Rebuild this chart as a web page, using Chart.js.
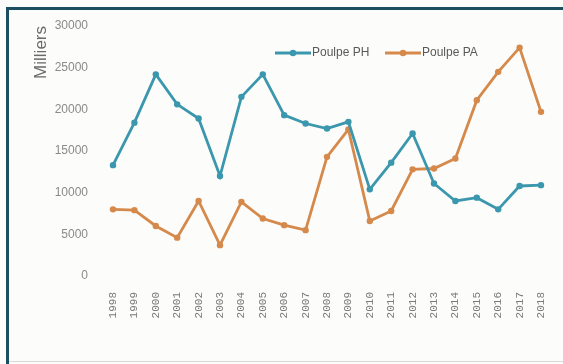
<!DOCTYPE html>
<html lang="fr">
<head>
<meta charset="utf-8">
<title>Poulpe PH / PA</title>
<script src="https://cdn.jsdelivr.net/npm/chart.js@4.4.1/dist/chart.umd.min.js"></script>
<style>
  html, body { margin: 0; padding: 0; background: #fcfcfa; }
  #cadre { position: relative; width: 563px; height: 364px; overflow: hidden; }
  #cadre canvas { position: absolute; left: 0; top: 0; }
  /* cadre foncé autour du graphique */
  .bord-haut { position: absolute; left: 6px; top: 7px; right: 0; height: 3px; background: #1c4d60; }
  .bord-gauche { position: absolute; left: 6px; top: 7px; bottom: 0; width: 3px; background: #1c4d60; }
  .bord-bas { position: absolute; left: 9px; right: 0; top: 361px; height: 1px; background: #d8d8d4; }
</style>
</head>
<body>
<div id="cadre">
  <canvas id="graphe" width="563" height="364"></canvas>
  <div class="bord-haut"></div>
  <div class="bord-gauche"></div>
  <div class="bord-bas"></div>
</div>
<script>
// --- Données (en milliers) ---
const annees = [
  "1998", "1999", "2000", "2001", "2002", "2003", "2004", "2005", "2006", "2007",
  "2008", "2009", "2010", "2011", "2012", "2013", "2014", "2015", "2016", "2017", "2018"
];
const poulpePH = [
  13300, 18400, 24200, 20600, 18900, 12000, 21500, 24200, 19300, 18300,
  17700, 18500, 10400, 13600, 17100, 11100, 9000, 9400, 8000, 10800, 10900
];
const poulpePA = [
  8000, 7900, 6000, 4600, 9000, 3700, 8900, 6900, 6100, 5500,
  14300, 17600, 6600, 7800, 12800, 12900, 14100, 21100, 24500, 27400, 19700
];
const ticksY = [0, 5000, 10000, 15000, 20000, 25000, 30000];

const COULEUR_PH = "#3a97ad";
const COULEUR_PA = "#d5894b";

// Légende dessinée à la main, dans la zone du graphique.
const legendeInterne = {
  id: "legendeInterne",
  afterDraw(chart) {
    const ctx = chart.ctx;
    const positions = [275, 385];
    const y = 53;
    ctx.save();
    ctx.font = "12px 'Liberation Sans', Arial, sans-serif";
    ctx.textBaseline = "middle";
    chart.data.datasets.forEach((ds, i) => {
      const x = positions[i];
      ctx.strokeStyle = ds.borderColor;
      ctx.lineWidth = 2.8;
      ctx.beginPath();
      ctx.moveTo(x, y);
      ctx.lineTo(x + 36, y);
      ctx.stroke();
      ctx.fillStyle = ds.borderColor;
      ctx.beginPath();
      ctx.arc(x + 18, y, 3.2, 0, Math.PI * 2);
      ctx.fill();
      ctx.fillStyle = "#595959";
      ctx.fillText(ds.label, x + 37, y);
    });
    ctx.restore();
  },
};

function serie(label, data, couleur) {
  return {
    label,
    data,
    borderColor: couleur,
    backgroundColor: couleur,
    borderWidth: 2.8,
    pointRadius: 3.2,
    pointBorderWidth: 0,
    pointBackgroundColor: couleur,
    tension: 0,
  };
}

// Les étiquettes ne doivent pas rogner la zone de tracé.
function sansMarges(s) {
  s.paddingTop = 0;
  s.paddingBottom = 0;
  s.paddingLeft = 0;
  s.paddingRight = 0;
}

new Chart(document.getElementById("graphe"), {
  type: "line",
  data: {
    labels: annees,
    datasets: [
      serie("Poulpe PH", poulpePH, COULEUR_PH),
      serie("Poulpe PA", poulpePA, COULEUR_PA),
    ],
  },
  options: {
    responsive: false,
    animation: false,
    devicePixelRatio: 1,
    layout: { padding: { top: 26, right: 22, bottom: 0, left: 0 } },
    plugins: {
      legend: { display: false },
      tooltip: { enabled: false },
    },
    scales: {
      x: {
        grid: { display: false, drawTicks: false },
        border: { display: false },
        ticks: {
          autoSkip: false,
          minRotation: 90,
          maxRotation: 90,
          padding: 16,
          color: "#7a7a7a",
          font: { family: "'Liberation Mono', monospace", size: 11 },
        },
        afterFit: (s) => { s.height = 88; sansMarges(s); },
      },
      y: {
        min: 0,
        max: 30000,
        grid: { display: false, drawTicks: false },
        border: { display: false },
        afterBuildTicks: (s) => { s.ticks = ticksY.map((v) => ({ value: v })); },
        ticks: {
          padding: 25,
          color: "#8a8a8a",
          font: { family: "'Liberation Sans', Arial, sans-serif", size: 12 },
          callback: (v) => String(v),
        },
        title: {
          display: true,
          text: "Milliers",
          align: "end",
          color: "#6a6a6a",
          padding: { top: 31, bottom: 0 },
          font: { family: "'Liberation Sans', Arial, sans-serif", size: 17 },
        },
        afterFit: (s) => { s.width = 113; sansMarges(s); },
      },
    },
  },
  plugins: [legendeInterne],
});
</script>
</body>
</html>
